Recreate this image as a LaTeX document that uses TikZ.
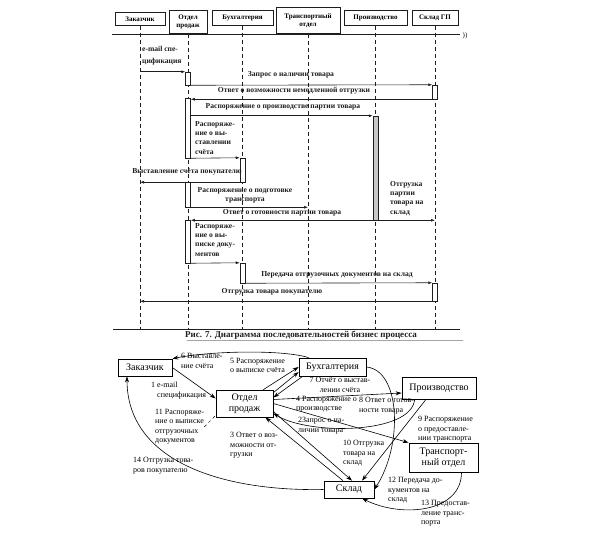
\documentclass[tikz,border=0pt]{standalone}
\usepackage{fontspec}
\setmainfont{Liberation Serif}
\usepackage{xcolor}
\usepackage{tikz}
\usetikzlibrary{arrows.meta, positioning, calc}
\definecolor{scanink}{RGB}{30,30,30}
\definecolor{scangray}{RGB}{165,165,165}

\begin{document}
\begin{tikzpicture}[
          x=1pt, y=-1pt,
          seqbox/.style={draw=scanink, line width=0.6pt, font=\fontsize{7}{8}\selectfont\bfseries, align=center, inner sep=1pt, anchor=north},
          actbar/.style={draw=scanink, line width=0.5pt, fill=white, minimum width=5pt, inner sep=0pt},
          lifeline/.style={scanink, line width=0.6pt, dash pattern=on 4pt off 3pt},
          msg/.style={-{Latex[length=4pt,width=3pt]}, scanink, line width=0.6pt},
          msgtext/.style={font=\fontsize{7.6}{9.3}\selectfont\bfseries, inner sep=0pt, text=scanink},
          colbox/.style={draw=black, line width=0.7pt, font=\fontsize{10}{11}\selectfont, align=center, inner sep=1pt},
          flow/.style={-{Stealth[length=6pt,width=4pt]}, line width=0.6pt},
          flowtext/.style={font=\fontsize{8}{9.5}\selectfont, align=left, anchor=north west, inner sep=0pt}
        ]
          \useasboundingbox (0,0) rectangle (591,541);

          % Sequence diagram: objects
          \node[seqbox, minimum width=50pt, minimum height=13pt] (zak) at (140,12) {Заказчик};
          \node[seqbox, minimum width=38pt, minimum height=23pt] (otd) at (188,10) {Отдел\\продаж};
          \node[seqbox, minimum width=61pt, minimum height=15pt] (buh) at (242.5,10) {Бухгалтерия};
          \node[seqbox, minimum width=64pt, minimum height=26pt] (trn) at (308,7) {Транспортный\\отдел};
          \node[seqbox, minimum width=63pt, minimum height=15pt] (prd) at (375.5,10) {Производство};
          \node[seqbox, minimum width=46pt, minimum height=15pt] (skl) at (435,10) {Склад ГП};
          \node[font=\fontsize{7}{8}\selectfont] (brk) at (465,36) {))};

          \coordinate (bot) at (0,329);
          \draw[line width=1pt, scanink] (112,34) -- (460,34);
          \draw[line width=1pt, scanink] (113,329) -- (460,329);
          \draw[scangray, line width=0.4pt] (187,340) -- (463,340);

          \draw[lifeline] (zak.south) -- (zak.south |- bot);
          \draw[lifeline] (otd.south) -- (otd.south |- bot);
          \draw[lifeline] (buh.south) -- (buh.south |- bot);
          \draw[lifeline] (trn.south) -- (trn.south |- bot);
          \draw[lifeline] (prd.south) -- (prd.south |- bot);
          \draw[lifeline] (skl.south) -- (skl.south |- bot);

          % activations
          \node[actbar, minimum height=13pt] (ao1) at (188,78.5) {};
          \node[actbar, minimum height=14pt] (as1) at (435,92) {};
          \node[actbar, minimum height=60pt] (ao2) at (188,128) {};
          \node[actbar, minimum height=104pt, fill=scangray!60] (ap) at (375.5,168) {};
          \node[actbar, minimum height=24pt] (ab1) at (242.5,170) {};
          \node[actbar, minimum height=25pt] (ao3) at (188,194.5) {};
          \node[actbar, minimum height=43pt] (ao4) at (188,241.5) {};
          \node[actbar, minimum height=20pt] (ab2) at (242.5,273) {};
          \node[actbar, minimum height=18pt] (as2) at (435,292) {};

          % messages
          \draw[msg] (zak |- ao1.north) -- (ao1.north west);
          \draw[msg] (ao1.south east) -- (as1.north west);
          \draw[msg] (as1.south west) -- (as1.south west -| ao2.east);
          \draw[msg] (ao2.east |- ap.north) -- (ap.north west);
          \draw[msg] (ao2.south east) -- (ab1.north west);
          \draw[msg] (ab1.south west) -- (ab1.south west -| zak);
          \draw[msg] (ao3.south east) -- (ao3.south east -| trn);
          \draw[msg] (ap.south west) -- (ap.south west -| ao4.east);
          \draw[msg] (ap.south east) -- (ap.south east -| skl);
          \draw[msg] (ao4.south east) -- (ab2.north west);
          \draw[msg] (ab2.south east) -- (as2.north west);
          \draw[msg] (as2.south west) -- (as2.south west -| zak);

          \node[msgtext, align=left, anchor=north west] (t1) at (142,46) {e-mail спе-\\[2.5pt]цификация};
          \node[msgtext] (t2) at (291,75) {Запрос о наличии товара};
          \node[msgtext] (t3) at (294,91) {Ответ о возможности немедленной отгрузки};
          \node[msgtext] (t4) at (283,107) {Распоряжение о производстве партии товара};
          \node[msgtext, align=left, anchor=north west] (t5) at (195,121) {Распоряже-\\ние о вы-\\ставлении\\счёта};
          \node[msgtext] (t6) at (187,172) {Выставление счёта покупателю};
          \node[msgtext, align=center] (t7) at (245,195) {Распоряжение о подготовке\\транспорта};
          \node[msgtext] (t8) at (282,213) {Ответ о готовности партии товара};
          \node[msgtext, align=left, anchor=north west] (t8b) at (390,181) {Отгрузка\\партии\\товара на\\склад};
          \node[msgtext, align=left, anchor=north west] (t9) at (195,223) {Распоряже-\\ние о вы-\\писке доку-\\ментов};
          \node[msgtext] (t10) at (337,275) {Передача отгрузочных документов на склад};
          \node[msgtext] (t11) at (272,292) {Отгрузка товара покупателю};
          \node[font=\fontsize{9}{11}\selectfont\bfseries, text=scanink] (cap) at (301,335) {Рис. 7. Диаграмма последовательностей бизнес процесса};

          % Collaboration diagram
          \node[colbox, minimum width=54pt, minimum height=17pt] (zak2) at (145,367.5) {Заказчик};
          \node[colbox, minimum width=57pt, minimum height=27pt] (otd2) at (244.5,403.5) {Отдел\\продаж};
          \node[colbox, minimum width=67pt, minimum height=18pt] (buh2) at (332.5,367) {Бухгалтерия};
          \node[colbox, minimum width=74pt, minimum height=22pt] (prd2) at (439,388) {Производство};
          \node[colbox, minimum width=69pt, minimum height=29pt] (trn2) at (443.5,457.5) {Транспорт-\\ный отдел};
          \node[colbox, minimum width=50pt, minimum height=17pt] (skl2) at (349,489.5) {Склад};

          \draw[flow] (zak2.east) -- (otd2.170);
          \draw[flow] ([yshift=-8pt]otd2.east) -- ([xshift=3pt]skl2.north);
          \draw[flow] ([xshift=-6pt]skl2.north) -- ([xshift=-8pt]otd2.south east);
          \draw[flow] ([yshift=4pt]otd2.east) -- ([yshift=-5pt]prd2.west);
          \draw[flow] ([xshift=-10pt]otd2.north east) -- (buh2.west);
          \draw[flow] ([xshift=10pt]buh2.north west) .. controls +(-25,-8) and +(40,-8) .. (zak2.north east);
          \draw[flow] ([xshift=4pt]buh2.south west) -- ([yshift=6pt]otd2.east);
          \draw[flow] ([xshift=13pt]prd2.south west) .. controls +(-3,35) and +(35,22) .. ([yshift=4pt]otd2.south east);
          \draw[flow] (otd2.east) -- (trn2.north west);
          \draw[flow] ([xshift=-13pt]prd2.south) -- ([xshift=13pt]skl2.north);
          \draw[flow] ([yshift=-3pt]otd2.north east) -- ([yshift=-5pt]buh2.west);
          \draw[flow] (buh2.east) .. controls +(34,3) and +(29,-45) .. (skl2.east);
          \draw[flow] ([xshift=18pt]trn2.south) .. controls +(0,40) and +(40,20) .. ([xshift=13pt]skl2.south);
          \draw[flow] (skl2.west) .. controls +(-104,2) and +(0,84) .. ([xshift=-18pt]zak2.south);

          \node[flowtext] (l1) at (151,382) {1 e-mail\\\hspace*{6pt}спецификация};
          \node[flowtext] (l2) at (298,417) {2Запрос о на-\\личии товара};
          \node[flowtext] (l3) at (230,432) {3 Ответ о воз-\\можности от-\\грузки};
          \node[flowtext] (l4) at (296,396) {4 Распоряжение о\\производстве};
          \node[flowtext] (l5) at (230,358) {5 Распоряжение\\о выписке счёта};
          \node[flowtext] (l6) at (181,353) {6 Выставле-\\ние счёта};
          \node[flowtext, align=center, anchor=north] (l7) at (340,377) {7 Отчёт о выстав-\\лении счёта};
          \node[flowtext] (l8) at (359,397) {8 Ответ о готов-\\ности товара};
          \node[flowtext] (l9) at (418,416) {9 Распоряжение\\о предоставле-\\нии транспорта};
          \node[flowtext] (l10) at (343,440) {10 Отгрузка\\товара на\\склад};
          \node[flowtext] (l11) at (155,409) {11 Распоряже-\\ние о выписке\\отгрузочных\\документов};
          \node[flowtext] (l12) at (388,477) {12 Передача до-\\кументов на\\склад};
          \node[flowtext] (l13) at (421,500) {13 Предостав-\\ление транс-\\порта};
          \node[flowtext] (l14) at (133,457) {14 Отгрузка това-\\ров покупателю};
          \draw[dashed, line width=0.5pt] (l11.east) -- ([yshift=2pt]otd2.south west);
        \end{tikzpicture}
\end{document}
